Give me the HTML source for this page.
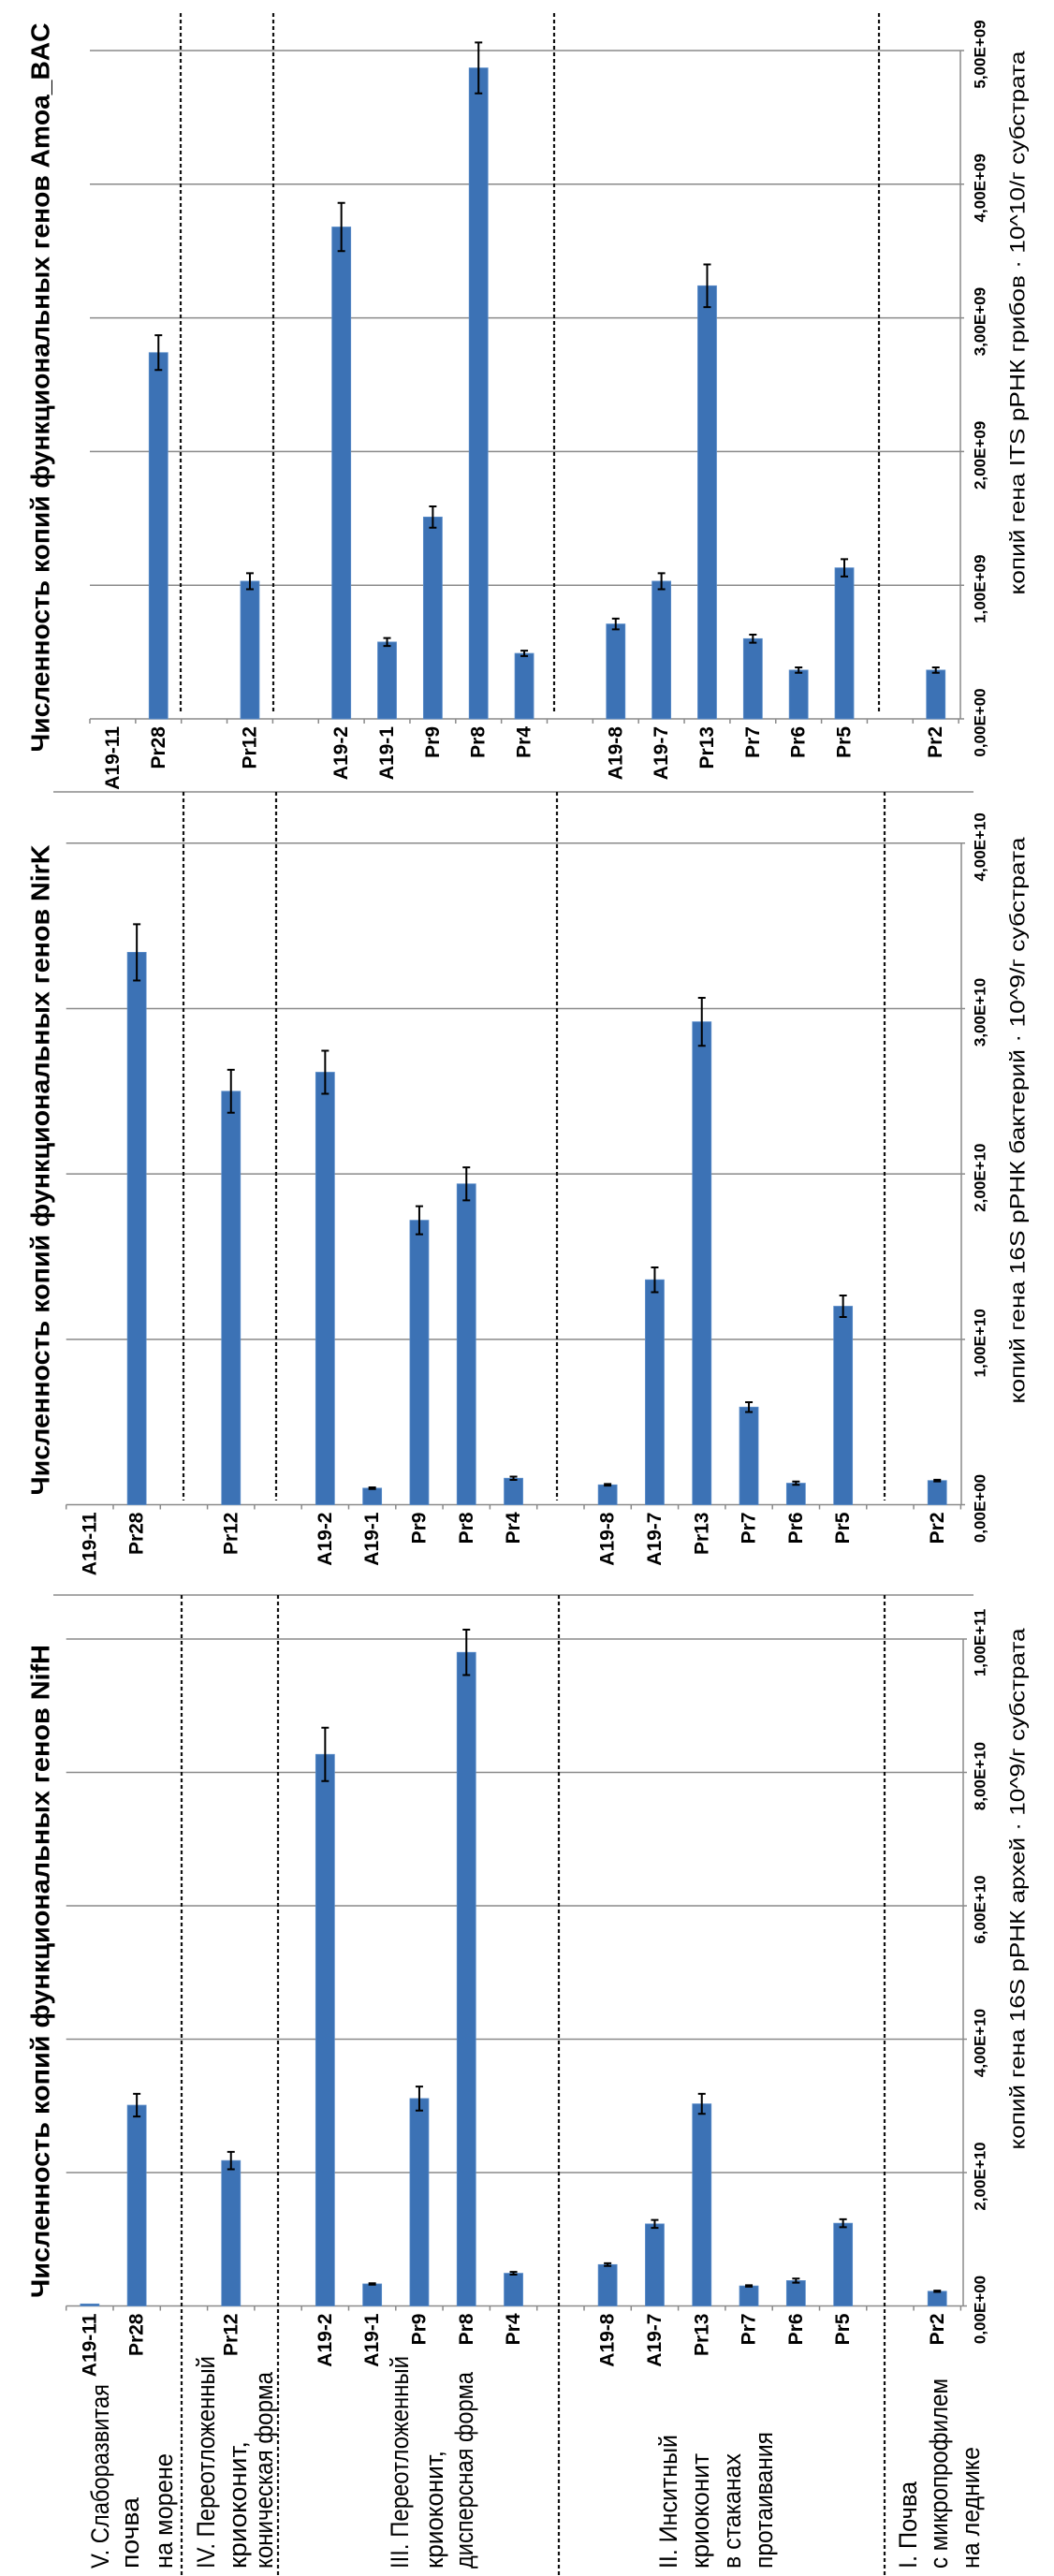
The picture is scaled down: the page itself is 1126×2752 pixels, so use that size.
<!DOCTYPE html>
<html><head><meta charset="utf-8"><style>
html,body{margin:0;padding:0;background:#fff;}
svg{display:block;}
text{font-family:"Liberation Sans",sans-serif;}
</style></head><body>
<svg id="fig" xmlns="http://www.w3.org/2000/svg" width="1126" height="2752" viewBox="0 0 1126 2752"></svg>
<script>
const categories = ["A19-11","Pr28","","Pr12","","A19-2","A19-1","Pr9","Pr8","Pr4","","A19-8","A19-7","Pr13","Pr7","Pr6","Pr5","","Pr2"];

const amoaValues = [0,2.74e9,null,1.03e9,null,3.68e9,0.575e9,1.51e9,4.87e9,0.49e9,null,0.71e9,1.03e9,3.24e9,0.60e9,0.365e9,1.13e9,null,0.365e9];
const amoaErrors = [0,0.13e9,null,0.06e9,null,0.18e9,0.03e9,0.08e9,0.19e9,0.02e9,null,0.04e9,0.06e9,0.16e9,0.03e9,0.02e9,0.065e9,null,0.02e9];
const amoaTicks = [0,1e9,2e9,3e9,4e9,5e9];
const amoaTickLabels = ["0,00E+00","1,00E+09","2,00E+09","3,00E+09","4,00E+09","5,00E+09"];

const nirkValues = [0,3.34e10,null,2.50e10,null,2.615e10,0.10e10,1.72e10,1.94e10,0.16e10,null,0.12e10,1.36e10,2.92e10,0.59e10,0.13e10,1.20e10,null,0.146e10];
const nirkErrors = [0,0.17e10,null,0.13e10,null,0.13e10,0.005e10,0.085e10,0.10e10,0.01e10,null,0.005e10,0.075e10,0.145e10,0.03e10,0.01e10,0.065e10,null,0.005e10];
const nirkTicks = [0,1e10,2e10,3e10,4e10];
const nirkTickLabels = ["0,00E+00","1,00E+10","2,00E+10","3,00E+10","4,00E+10"];

const nifhValues = [0.03e10,3.01e10,null,2.18e10,null,8.27e10,0.33e10,3.11e10,9.80e10,0.49e10,null,0.62e10,1.23e10,3.03e10,0.30e10,0.38e10,1.24e10,null,0.22e10];
const nifhErrors = [0,0.17e10,null,0.13e10,null,0.40e10,0.01e10,0.18e10,0.34e10,0.02e10,null,0.02e10,0.06e10,0.15e10,0.01e10,0.03e10,0.06e10,null,0.01e10];
const nifhTicks = [0,2e10,4e10,6e10,8e10,1e11];
const nifhTickLabels = ["0,00E+00","2,00E+10","4,00E+10","6,00E+10","8,00E+10","1,00E+11"];

const groupLabels = [
  ["V. Слаборазвитая","почва","на морене"],
  ["IV. Переотложенный","криоконит,","коническая форма"],
  ["III. Переотложенный","криоконит,","дисперсная форма"],
  ["II. Инситный","криоконит","в стаканах","протаивания"],
  ["I. Почва","с микропрофилем","на леднике"]
];

const NS = "http://www.w3.org/2000/svg";
const svg = document.getElementById('fig');
function mk(tag, attrs, parent){
  const e = document.createElementNS(NS, tag);
  for (const k in attrs) e.setAttribute(k, attrs[k]);
  (parent||svg).appendChild(e);
  return e;
}
function rtext(str, x, y, size, weight, anchor, parent, len){
  const t = mk('text', {x:x, y:y, 'font-size':size, 'font-weight':weight, 'text-anchor':anchor,
    'dominant-baseline':'central', fill:'#000', transform:'rotate(-90 '+x+' '+y+')'}, parent);
  if (len) { t.setAttribute('textLength', len); t.setAttribute('lengthAdjust','spacingAndGlyphs'); }
  t.textContent = str;
  return t;
}

function panel(cfg){
  const g = mk('g', {});
  
  
  const vMax = cfg.ticks[cfg.ticks.length-1];
  const yScale = v => cfg.base - (cfg.base - cfg.top) * v / vMax;
  const xScale = i => cfg.x0 + cfg.slot * (i + 0.5);
  const xEnd = cfg.x0 + cfg.slot * categories.length;
  // border line
  if (cfg.border) {
    const b = mk('line', {x1:57, y1:cfg.border, x2:1040, y2:cfg.border, stroke:'#8a8a8a', 'stroke-width':1.5}, g);
    
    
  }
  // gridlines + tick labels
  cfg.ticks.forEach((v, k) => {
    const y = yScale(v);
    const l = mk('line', {x1:cfg.x0, y1:y, x2:cfg.axisX+4, y2:y, stroke:'#8a8a8a', 'stroke-width':1.5}, g);
    
    
    const t = rtext(cfg.tickLabels[k], 1047, y+4, 17, 'bold', 'middle', g);
    
    
  });
  // value axis line
  const ax = mk('line', {x1:cfg.axisX, y1:cfg.top, x2:cfg.axisX, y2:cfg.base, stroke:'#8a8a8a', 'stroke-width':1.5}, g);
  
  
  // category tick marks
  for (let i = 0; i <= categories.length; i++) {
    const x = cfg.x0 + cfg.slot * i;
    const tk = mk('line', {x1:x, y1:cfg.base, x2:x, y2:cfg.base+5, stroke:'#8a8a8a', 'stroke-width':1.5}, g);
    
    
  }
  // dotted separators
  cfg.dots.forEach(x => {
    const d = mk('line', {x1:x, y1:cfg.dotTop, x2:x, y2:cfg.dotBottom, stroke:'#111', 'stroke-width':2.2, 'stroke-dasharray':'4 3'}, g);
    
    
  });
  // bars
  categories.forEach((c, i) => {
    const v = cfg.values[i];
    if (c === "" || v === null) return;
    const cx = xScale(i), w = 20;
    const y = yScale(v);
    const r = mk('rect', {x:cx-w/2, y:y, width:w, height:Math.max(0, cfg.base-y), fill:'#3c72b5', stroke:'#5a8cc8', 'stroke-width':0.8}, g);
    
    
    const e = cfg.errors[i];
    if (e > 0) {
      const y1 = yScale(v + e), y2 = yScale(v - e);
      const eb = mk('path', {d:'M'+cx+' '+y1+'V'+y2+'M'+(cx-4)+' '+y1+'H'+(cx+4)+'M'+(cx-4)+' '+y2+'H'+(cx+4), stroke:'#000', 'stroke-width':2, fill:'none'}, g);
      
      
    }
    const t = rtext(c, cx, cfg.base+8, 21, 'bold', 'end', g);
    
    
  });
  // title
  const tt = rtext(cfg.title, 43, cfg.titleY, 28, 'bold', 'middle', g, cfg.titleLen);
  
  
  const at = rtext(cfg.axisTitle, 1087, cfg.axisTitleY, 22, 'normal', 'middle', g, cfg.axisTitleLen);
  
  
}

panel({name:'amoa-chart', x0:96, slot:48.85, base:768, top:54, axisX:1026,
  ticks:amoaTicks, tickLabels:amoaTickLabels, values:amoaValues, errors:amoaErrors,
  dots:[193,292,592,939], dotTop:14, dotBottom:762,
  title:'Численность копий функциональных генов Amoa_BAC', titleY:414, titleLen:779,
  axisTitle:'копий гена ITS рРНК грибов · 10^10/г субстрата', axisTitleY:345, axisTitleLen:581});

panel({name:'nirk-chart', x0:70.7, slot:50.3, base:1607.5, top:900.8, axisX:1027, border:846,
  ticks:nirkTicks, tickLabels:nirkTickLabels, values:nirkValues, errors:nirkErrors,
  dots:[196,295,595,945], dotTop:846, dotBottom:1603,
  title:'Численность копий функциональных генов NirK', titleY:1250, titleLen:695,
  axisTitle:'копий гена 16S рРНК бактерий · 10^9/г субстрата', axisTitleY:1197, axisTitleLen:605});

panel({name:'nifh-chart', x0:70.7, slot:50.3, base:2463.5, top:1751, axisX:1029, border:1704,
  ticks:nifhTicks, tickLabels:nifhTickLabels, values:nifhValues, errors:nifhErrors,
  dots:[194,297,597,945], dotTop:1704, dotBottom:2752,
  title:'Численность копий функциональных генов NifH', titleY:2106, titleLen:698,
  axisTitle:'копий гена 16S рРНК архей · 10^9/г субстрата', axisTitleY:2018, axisTitleLen:557});

// group labels (bottom)
const groupX = [[107,139,175],[220,254,282],[427,464,496],[714,748,782,816],[970,1003,1037]];
const groupLen = [[197,76,123],[227,136,210],[227,126,210],[143,123,123,146],[93,203,130]];
groupLabels.forEach((lines, gi) => {
  lines.forEach((s, li) => {
    const t = rtext(s, groupX[gi][li], 2744, 27, 'normal', 'start', svg, groupLen[gi][li]);
    
    
  });
});
</script>
</body></html>
